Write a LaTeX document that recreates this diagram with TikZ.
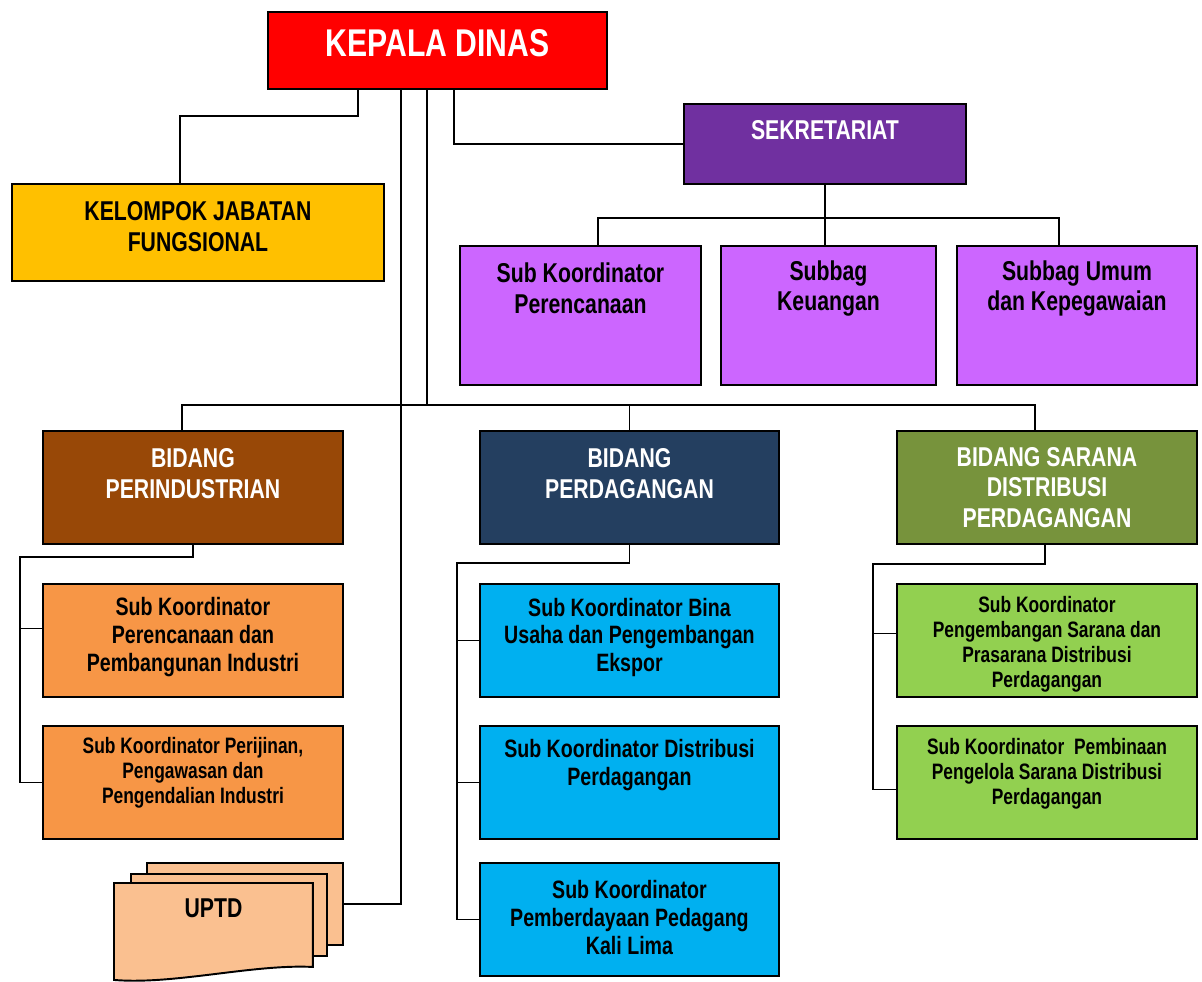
\documentclass[tikz,border=0pt]{standalone}
\usepackage{fontspec}
\setmainfont[FakeStretch=0.78]{Liberation Sans}
\usetikzlibrary{calc}

\definecolor{kdred}{HTML}{FF0000}
\definecolor{sekpurple}{HTML}{7030A0}
\definecolor{jfyellow}{HTML}{FFC000}
\definecolor{subviolet}{HTML}{CC66FF}
\definecolor{indbrown}{HTML}{984807}
\definecolor{dagnavy}{HTML}{243F60}
\definecolor{sarolive}{HTML}{77933C}
\definecolor{indorange}{HTML}{F79646}
\definecolor{dagcyan}{HTML}{00B0F0}
\definecolor{sargreen}{HTML}{92D050}
\definecolor{uptdpeach}{HTML}{FAC090}

\newcommand*{\pxl}{0.02cm}

\begin{document}
\begin{tikzpicture}[x=0.02cm,y=-0.02cm,
    unit box/.style 2 args={draw, line width=1.1pt, anchor=north west, inner sep=0pt,
      minimum width=#1*\pxl, minimum height=#2*\pxl},
    link/.style={line width=1.1pt},
    lbl/.style={align=center, inner sep=0pt},
    fkd/.style={font=\fontsize{22}{26}\selectfont\bfseries, text=white},
    fmain/.style={font=\fontsize{15.5}{17.5}\selectfont\bfseries},
    fsub/.style={font=\fontsize{14.3}{15.9}\selectfont\bfseries},
    fsmall/.style={font=\fontsize{12.7}{14.2}\selectfont\bfseries}]
   \useasboundingbox (0,0) rectangle (1202,981);

   % pimpinan dan sekretariat
   \node[unit box={339}{77}, fill=kdred, label={[lbl,fkd,yshift=7*\pxl]center:KEPALA DINAS}] (kd) at (267,11) {};
   \node[unit box={282}{80}, fill=sekpurple, label={[lbl,fmain,text=white,yshift=14*\pxl]center:SEKRETARIAT}] (sek) at (683,103) {};
   \node[unit box={372}{97}, fill=jfyellow, label={[lbl,fmain,yshift=6*\pxl]center:KELOMPOK JABATAN\\FUNGSIONAL}] (kjf) at (11,183) {};

   \node[unit box={241}{139}, fill=subviolet, label={[lbl,fmain,yshift=27*\pxl]center:Sub Koordinator\\Perencanaan}] (sk1) at (459,245) {};
   \node[unit box={215}{139}, fill=subviolet, label={[lbl,fmain,yshift=27*\pxl]center:Subbag\\Keuangan}] (sk2) at (720,245) {};
   \node[unit box={240}{139}, fill=subviolet, label={[lbl,fmain,yshift=27*\pxl]center:Subbag Umum\\dan Kepegawaian}] (sk3) at (956,245) {};

   % bidang
   \node[unit box={300}{113}, fill=indbrown, label={[lbl,fmain,text=white,yshift=14*\pxl]center:BIDANG\\PERINDUSTRIAN}] (bp) at (42,430) {};
   \node[unit box={299}{113}, fill=dagnavy, label={[lbl,fmain,text=white,yshift=14*\pxl]center:BIDANG\\PERDAGANGAN}] (bd) at (479,430) {};
   \node[unit box={300}{113}, fill=sarolive, label={[lbl,fmain,text=white]center:BIDANG SARANA\\DISTRIBUSI\\PERDAGANGAN}] (bs) at (896,430) {};

   \node[unit box={300}{113}, fill=indorange, label={[lbl,fsub,yshift=3*\pxl]center:Sub Koordinator\\Perencanaan dan\\Pembangunan Industri}] (o1) at (42,583) {};
   \node[unit box={300}{113}, fill=indorange, label={[lbl,fsmall,yshift=10*\pxl]center:{Sub Koordinator Perijinan,\\Pengawasan dan\\Pengendalian Industri}}] (o2) at (42,725) {};

   \node[unit box={299}{113}, fill=dagcyan, label={[lbl,fsub,yshift=3*\pxl]center:Sub Koordinator Bina\\Usaha dan Pengembangan\\Ekspor}] (b1) at (479,583) {};
   \node[unit box={299}{113}, fill=dagcyan, label={[lbl,fsub,yshift=17*\pxl]center:Sub Koordinator Distribusi\\Perdagangan}] (b2) at (479,725) {};
   \node[unit box={299}{113}, fill=dagcyan, label={[lbl,fsub,yshift=2*\pxl]center:Sub Koordinator\\Pemberdayaan Pedagang\\Kali Lima}] (b3) at (479,862) {};

   \node[unit box={300}{113}, fill=sargreen, label={[lbl,fsmall,yshift=-4*\pxl]center:Sub Koordinator\\Pengembangan Sarana dan\\Prasarana Distribusi\\Perdagangan}] (g1) at (896,583) {};
   \node[unit box={300}{113}, fill=sargreen, label={[lbl,fsmall,yshift=9*\pxl]center:Sub Koordinator\ \ Pembinaan\\Pengelola Sarana Distribusi\\Perdagangan}] (g2) at (896,725) {};

   % uptd
   \node[unit box={196}{82}, fill=uptdpeach] (uptdc) at (146,862) {};
   \node[unit box={196}{82}, fill=uptdpeach] (uptdb) at (130,873) {};
   \node[unit box={197}{95}, draw=none] (uptd) at (114,883) {};
   \filldraw[fill=uptdpeach, line width=1.1pt] (uptd.north west) -- (uptd.north east)
     -- ([yshift=13*\pxl]uptd.south east) .. controls +(-60,-3) and +(60,5) .. (uptd.south west) -- cycle;
   \node[lbl,fmain] (uptdt) at ([yshift=-25*\pxl]uptd.north) {UPTD};

   % garis dari kepala dinas
   \draw[link] ([xshift=-79.5*\pxl]kd.south) -- ++(0,26) -| ([xshift=-18*\pxl]kjf.north);
   \draw[link] ([xshift=-36.5*\pxl]kd.south) |- (uptdc.east);
   \draw[link] ([xshift=16.5*\pxl]kd.south) |- (sek.west);
   \draw[link] ([xshift=-11*\pxl]bp.north) -- ++(0,-25) coordinate (bus) -| ([xshift=-12*\pxl]bs.north);
   \draw[link] ([xshift=-10.5*\pxl]kd.south) coordinate (kdb) -- (kdb |- bus);
   \draw[link] (bd.north) -- (bd.north |- bus);

   % sekretariat
   \draw[link] (sek.south) -- ++(0,33) coordinate (sekbus);
   \draw[link] ([xshift=17.5*\pxl]sk1.north) |- (sekbus) -| ([xshift=-18*\pxl]sk3.north);
   \draw[link] (sekbus) -- (sekbus |- sk2.north);

   % perindustrian
   \draw[link] (bp.south) -- ++(0,12) -| ([xshift=-22*\pxl]o2.west) -- (o2.west);
   \draw[link] ([yshift=12*\pxl]o1.west) -- ++(-22,0);

   % perdagangan
   \draw[link] (bd.south) -- ++(0,18) -| ([xshift=-22*\pxl]b3.west) -- (b3.west);
   \draw[link] (b1.west) -- ++(-22,0);
   \draw[link] (b2.west) -- ++(-22,0);

   % sarana distribusi
   \draw[link] ([xshift=-2*\pxl]bs.south) -- ++(0,19) -| ([xshift=-23*\pxl,yshift=-7*\pxl]g2.west) -- ([yshift=-7*\pxl]g2.west);
   \draw[link] ([yshift=7*\pxl]g1.west) -- ++(-23,0);
 \end{tikzpicture}
\end{document}
